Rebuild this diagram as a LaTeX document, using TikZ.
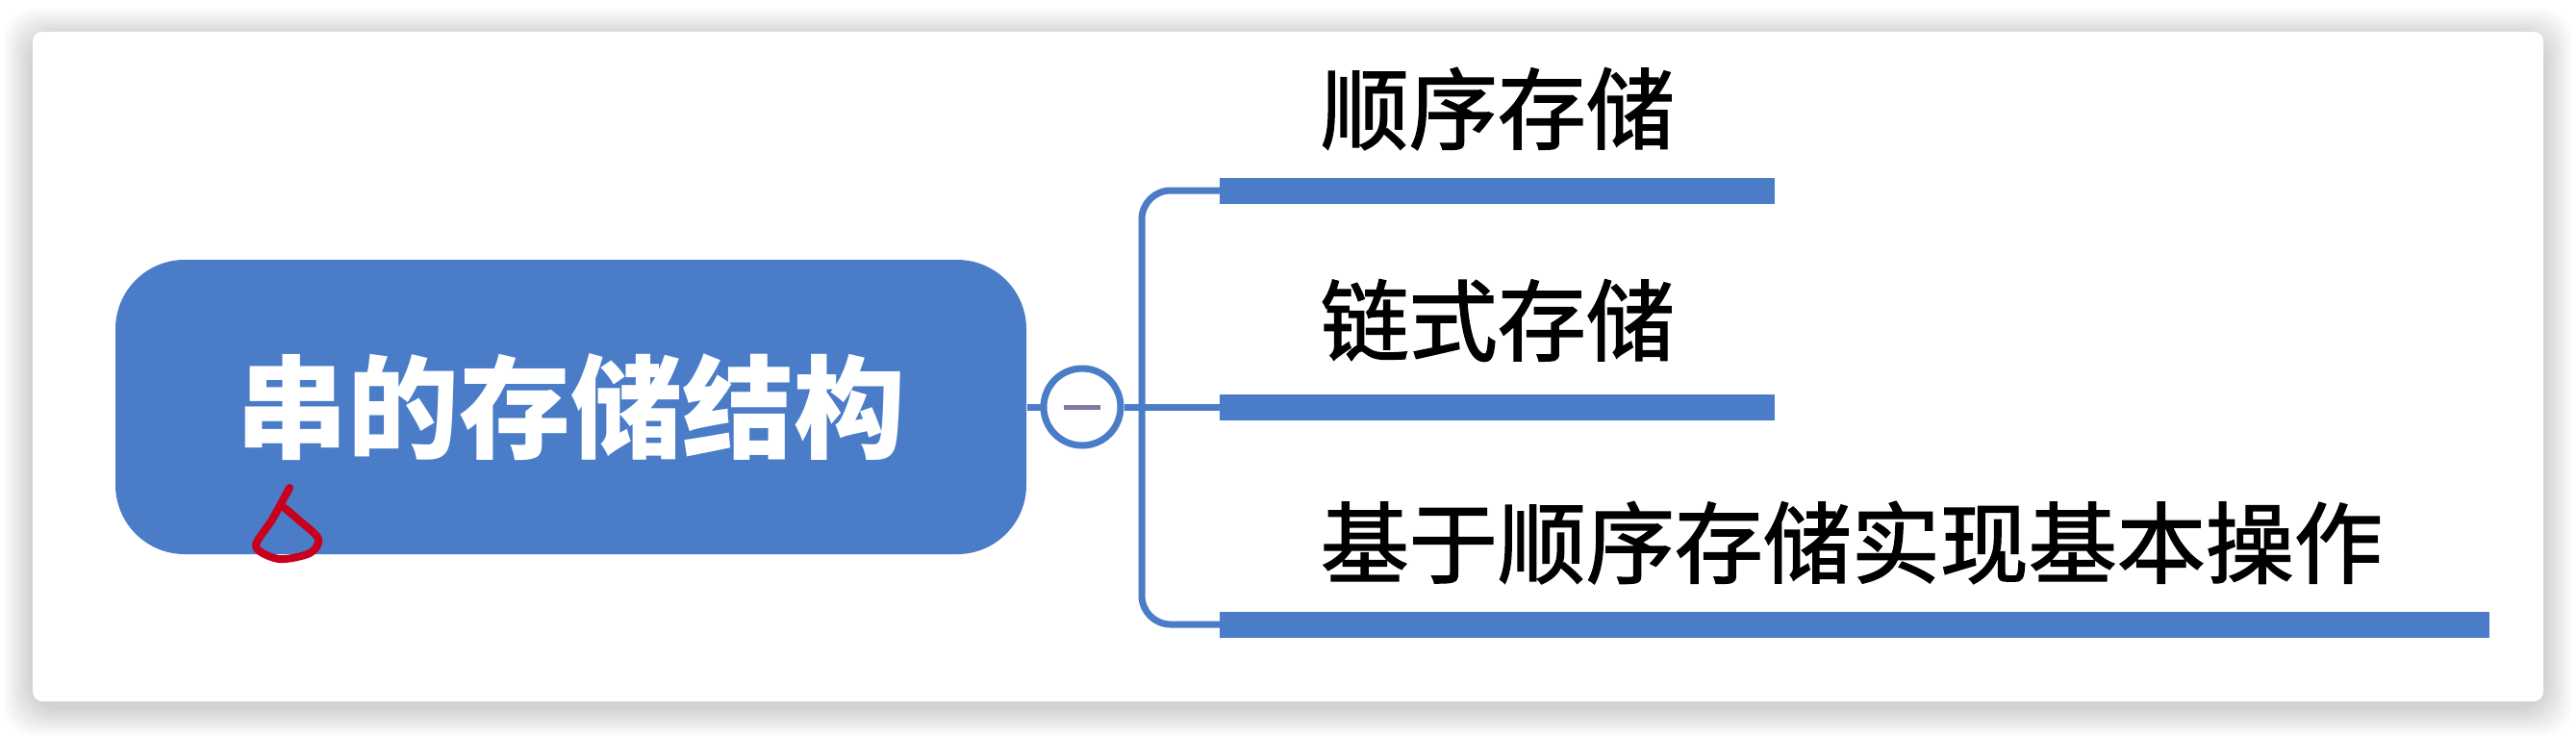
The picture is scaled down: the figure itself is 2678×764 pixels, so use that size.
\documentclass[tikz,border=0pt]{standalone}
\usepackage{fontspec}
\newfontfamily\cjk{Noto Sans CJK SC}
\newfontfamily\cjkthick{Noto Sans CJK SC}[FakeBold=1.6]
\usetikzlibrary{positioning,calc}
\definecolor{mapblue}{RGB}{74,124,200}
\definecolor{minusgray}{RGB}{128,120,165}
\definecolor{inkred}{RGB}{200,0,30}

\begin{document}
\begin{tikzpicture}[x=0.25pt,y=-0.25pt,
  rootbox/.style={rectangle,rounded corners=18pt,fill=mapblue,minimum width=236.75pt,
    minimum height=76.5pt,text=white,font=\cjk\bfseries\fontsize{29}{29}\selectfont},
  toggle/.style={circle,draw=mapblue,line width=1.75pt,fill=white,minimum size=20pt,inner sep=0pt},
  topic/.style={anchor=west,inner sep=0pt,font=\cjkthick\fontsize{23}{23}\selectfont},
  link/.style={draw=mapblue,line width=1.75pt},
  bar/.style={draw=mapblue,line width=6.75pt}]
\useasboundingbox (0,0) rectangle (2678,764);
% Card with soft shadow
\foreach \s in {2,4,...,30} {
  \fill[black,opacity=0.011,rounded corners=8pt] (34-\s,33-\s+6) rectangle (2644+\s,729+\s+6);
}
\fill[white,rounded corners=2.5pt] (34,33) rectangle (2644,729);
% Root topic and collapse button
\node[rootbox] (root) at (593.5,423) {串的存储结构};
\node[toggle] (tog) at (1125,423) {};
\draw[minusgray,line width=1.25pt] ([xshift=-4.8pt]tog.center) -- ([xshift=4.8pt]tog.center);
% Branch underlines
\coordinate (trunk) at (1187,423);
\coordinate (b1) at (1268,198);
\coordinate (b2) at (1268,423);
\coordinate (b3) at (1268,649);
\coordinate (e1) at (1845,198);
\coordinate (e2) at (1845,423);
\coordinate (e3) at (2588,649);
\foreach \i in {1,2,3} {
  \draw[bar] (b\i) -- (e\i);
}
\node[topic] (t1) at (1372,113) {顺序存储};
\node[topic] (t2) at (1372,333) {链式存储};
\node[topic] (t3) at (1372,564) {基于顺序存储实现基本操作};
% Connectors
\draw[link] (root.east) -- (tog.west);
\draw[link] (tog.east) -- (b2);
\draw[link,rounded corners=7.5pt] (b1) -| (trunk) |- (b3);
% Red pen mark
\draw[inkred,line width=2pt,line cap=round,line join=round]
  plot[smooth] coordinates {(301,507) (283,540) (266,568) (290,581) (322,575) (331,560) (310,540) (296,528)};
\end{tikzpicture}
\end{document}
